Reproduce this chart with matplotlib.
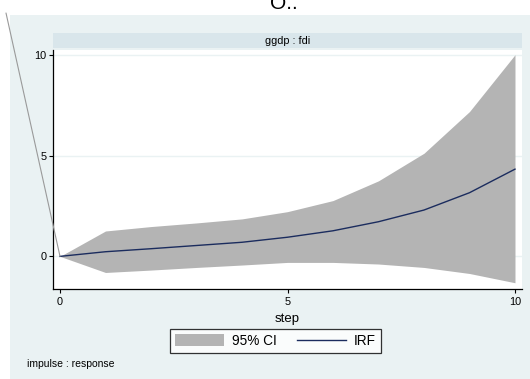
import matplotlib
matplotlib.use("Agg")
import matplotlib.pyplot as plt
from matplotlib.patches import Rectangle, Patch, ConnectionPatch
from matplotlib.lines import Line2D

plt.rcParams['font.family'] = ['Liberation Sans', 'DejaVu Sans']

# impulse-response of ggdp to fdi, with 95% confidence band
steps = [0, 1, 2, 3, 4, 5, 6, 7, 8, 9, 10]
irf = [0.0, 0.23, 0.38, 0.54, 0.70, 0.95, 1.27, 1.72, 2.30, 3.16, 4.33]
ci_upper = [0.0, 1.26, 1.48, 1.66, 1.86, 2.22, 2.77, 3.75, 5.12, 7.19, 10.01]
ci_lower = [0.0, -0.80, -0.68, -0.55, -0.43, -0.30, -0.30, -0.38, -0.55, -0.85, -1.31]
x_ticks = [0, 5, 10]
y_ticks = [0, 5, 10]
panel_title = "ggdp : fdi"
note_text = "impulse : response"

W, H = 530, 379
fig = plt.figure(figsize=(W / 100, H / 100), dpi=100)
fig.patch.set_facecolor("white")

def fx(px):
    return px / W

def fy(py):
    return 1 - py / H

# outer graph region
fig.patches.append(Rectangle((fx(10), 0), 1 - fx(10), fy(15), transform=fig.transFigure,
                             facecolor="#EAF2F3", edgecolor="none", zorder=-2))
# panel strip
fig.patches.append(Rectangle((fx(53), fy(48)), fx(522) - fx(53), fy(33) - fy(48),
                             transform=fig.transFigure, facecolor="#D9E6EB",
                             edgecolor="none", zorder=-1))
fig.text(fx(288), fy(40.5), panel_title, ha="center", va="center", fontsize=7.8, color="black")

# heading at the very top, running off the upper edge
fig.text(fx(270), fy(9), "O..", ha="left", va="baseline", fontsize=15, color="black")

ax = fig.add_axes([fx(53), fy(289), fx(522) - fx(53), fy(49.5) - fy(289)])
ax.set_zorder(2)
ax.set_facecolor("white")
ax.fill_between(steps, ci_lower, ci_upper, color="#B4B4B4", linewidth=0, zorder=2)
ax.plot(steps, irf, color="#1B2C5E", linewidth=1.0, zorder=3)

ax.set_xlim(-0.154, 10.154)
ax.set_ylim(-1.62, 10.27)
ax.set_xticks(x_ticks)
ax.set_yticks(y_ticks)
ax.set_xticklabels([str(t) for t in x_ticks], fontsize=7.8)
ax.set_yticklabels([str(t) for t in y_ticks], fontsize=7.8)
ax.tick_params(direction="out", length=3, width=0.8, color="black", pad=1.5)
ax.tick_params(axis="x", pad=3)
ax.grid(axis="y", color="#EAF2F3", linewidth=1.0, zorder=1)
ax.set_axisbelow(True)
for side in ("top", "right"):
    ax.spines[side].set_visible(False)
for side in ("left", "bottom"):
    ax.spines[side].set_color("black")
    ax.spines[side].set_linewidth(0.9)
ax.set_xlabel("step", fontsize=9.5, labelpad=4)

# connector from the top-left corner to the origin of the response
con = ConnectionPatch(xyA=(6, H - 13), coordsA="figure pixels",
                      xyB=(steps[0], irf[0]), coordsB="data", axesB=ax,
                      color="#9A9A9A", linewidth=0.8, shrinkA=0, shrinkB=0)
con.set_zorder(10)
con.set_clip_on(False)
fig.add_artist(con)

handles = [Patch(facecolor="#B4B4B4", edgecolor="none"),
           Line2D([0], [0], color="#1B2C5E", linewidth=1.0)]
leg = fig.legend(handles, ["95% CI", "IRF"], ncol=2, loc="center",
                 bbox_to_anchor=(fx(275.5), fy(341)), fontsize=9.8,
                 frameon=True, fancybox=False, edgecolor="black",
                 handlelength=3.6, handleheight=1.0, columnspacing=1.45,
                 borderpad=0.35, handletextpad=0.6)
leg.get_frame().set_linewidth(0.9)
leg.get_frame().set_facecolor("white")

fig.text(fx(27), fy(364), note_text, ha="left", va="center", fontsize=7.5, color="black")

fig.savefig("out.png", dpi=100)
